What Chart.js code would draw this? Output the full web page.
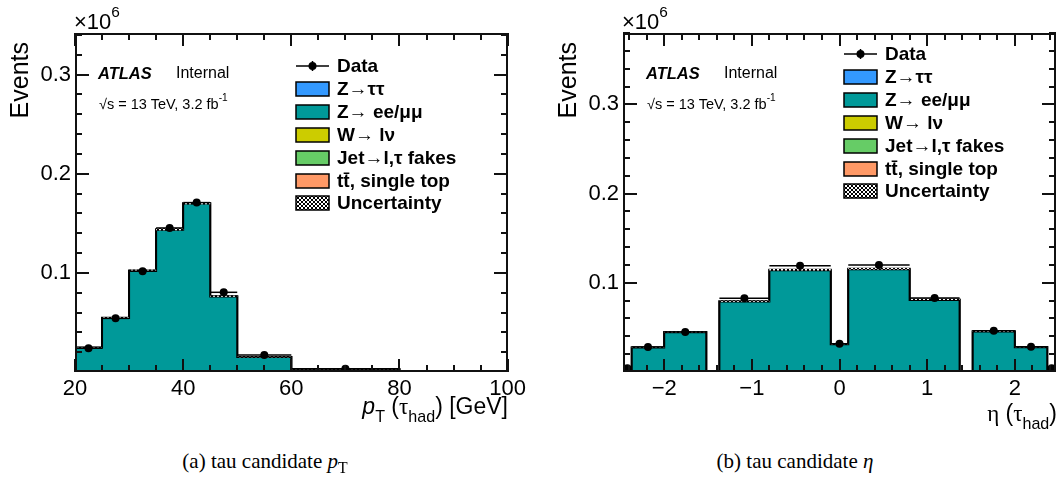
<!DOCTYPE html>
<html>
<head>
<meta charset="utf-8">
<script src="https://cdn.jsdelivr.net/npm/chart.js@4.4.1/dist/chart.umd.min.js"></script>
<style>
  body { margin: 0; background: #fff; }
  #page { position: relative; width: 1060px; height: 478px; overflow: hidden; font-family: "Liberation Sans", Arial, sans-serif; color: #000; }
  canvas { position: absolute; top: 0; }
  .t { position: absolute; white-space: nowrap; line-height: 1; }
  .ax { font-size: 23px; }
  .lab { font-size: 22px; }
  .atlas { font-size: 16.5px; font-weight: bold; font-style: italic; }
  .internal { font-size: 16px; }
  .lumi { font-size: 14.5px; }
  .cap { font-family: "Liberation Serif", "Times New Roman", serif; font-size: 21px; text-align: center; width: 530px; }
  .sup { font-size: 70%; position: relative; top: -0.75em; }
  .sub { font-size: 70%; position: relative; top: 0.5em; }
  .sym { font-family: "Liberation Serif", serif; }
  .ytitle { position: absolute; left: 0; top: 0; width: 200px; text-align: right; font-size: 25px; line-height: 1; transform-origin: 0 0; white-space: nowrap; }
</style>
</head>
<body>
<div id="page">
  <canvas id="ptChart" width="530" height="440" style="left:0"></canvas>
  <canvas id="etaChart" width="530" height="440" style="left:530px"></canvas>

  <!-- left panel texts -->
  <div class="t lab" style="left:74px; top:11px">×10<span class="sup">6</span></div>
  <div class="ytitle" style="transform: translate(7px, 242px) rotate(-90deg)">Events</div>
  <div class="t atlas" style="left:98px; top:65px">ATLAS</div>
  <div class="t internal" style="left:176px; top:65px">Internal</div>
  <div class="t lumi" style="left:99px; top:97px">√s = 13 TeV, 3.2 fb<span class="sup">-1</span></div>
  <div class="t ax" style="right:552px; top:395px"><i>p</i><span class="sub">T</span> (<span class="sym">τ</span><span class="sub">had</span>) [GeV]</div>
  <div class="t cap" style="left:0; top:451px">(a) tau candidate <i>p</i><span class="sub" style="font-size:75%;top:0.3em">T</span></div>

  <!-- right panel texts -->
  <div class="t lab" style="left:622px; top:11px">×10<span class="sup">6</span></div>
  <div class="ytitle" style="transform: translate(555px, 242px) rotate(-90deg)">Events</div>
  <div class="t atlas" style="left:646px; top:65px">ATLAS</div>
  <div class="t internal" style="left:724px; top:65px">Internal</div>
  <div class="t lumi" style="left:647px; top:97px">√s = 13 TeV, 3.2 fb<span class="sup">-1</span></div>
  <div class="t ax" style="right:3px; top:402px"><span class="sym">η</span> (<span class="sym">τ</span><span class="sub">had</span>)</div>
  <div class="t cap" style="left:530px; top:451px">(b) tau candidate <i>η</i></div>
</div>

<script>
// ---- tau pT histogram (events x 10^6) ----
const ptEdges = [20, 25, 30, 35, 40, 45, 50, 60, 80, 100];
const ptZll   = [0.0239, 0.0536, 0.1010, 0.1421, 0.1686, 0.0750, 0.0145, 0.0026, 0.0002];
const ptZtt   = [0.0002, 0.0003, 0.0004, 0.0004, 0.0003, 0.0002, 0.0001, 0, 0];
const ptWlnu  = [0.0001, 0.0001, 0.0001, 0.0001, 0.0001, 0.0001, 0.0001, 0, 0];
const ptFakes = [0.0004, 0.0006, 0.0008, 0.0012, 0.0012, 0.0010, 0.0004, 0.0001, 0];
const ptTop   = [0.0001, 0.0001, 0.0001, 0.0001, 0.0001, 0.0001, 0.0001, 0, 0];
const ptUnc   = [0.0003, 0.0005, 0.0008, 0.0010, 0.0011, 0.0006, 0.0003, 0.0001, 0.0001];
const ptData  = [0.0240, 0.0541, 0.1017, 0.1453, 0.1709, 0.0804, 0.0172, 0.0034, null];

// ---- tau eta histogram (events x 10^6), crack bins are empty ----
const etaEdges = [-2.47, -2.37, -2.0, -1.52, -1.37, -0.8, -0.1, 0.1, 0.8, 1.37, 1.52, 2.0, 2.37, 2.47];
const etaZll   = [0.0028, 0.0269, 0.0439, 0, 0.0782, 0.1131, 0.0309, 0.1143, 0.0800, 0, 0.0447, 0.0273, 0.0028];
const etaZtt   = [0.0001, 0.0002, 0.0003, 0, 0.0004, 0.0005, 0.0002, 0.0005, 0.0004, 0, 0.0003, 0.0002, 0.0001];
const etaWlnu  = [0, 0.0001, 0.0001, 0, 0.0001, 0.0001, 0, 0.0001, 0.0001, 0, 0.0001, 0.0001, 0];
const etaFakes = [0.0001, 0.0003, 0.0004, 0, 0.0006, 0.0008, 0.0002, 0.0008, 0.0006, 0, 0.0004, 0.0003, 0.0001];
const etaTop   = [0, 0.0001, 0.0001, 0, 0.0001, 0.0001, 0, 0.0001, 0.0001, 0, 0.0001, 0.0001, 0];
const etaUnc   = [0.0001, 0.0003, 0.0004, 0, 0.0006, 0.0008, 0.0003, 0.0008, 0.0006, 0, 0.0004, 0.0003, 0.0001];
const etaData  = [0.0043, 0.0280, 0.0447, null, 0.0827, 0.1190, 0.0317, 0.1199, 0.0830, null, 0.0463, 0.0283, 0.0043];

const ZTT_COLOR = '#3399ff';
const ZLL_COLOR = '#009999';
const W_COLOR = '#cccc00';
const FAKES_COLOR = '#66cc66';
const TOP_COLOR = '#ff9966';

Chart.defaults.font.family = '"Liberation Sans", Arial, sans-serif';
Chart.defaults.color = '#000';

// histogram outline: one point per lower edge + closing point at last edge
function stepPoints(edges, vals) {
  const pts = vals.map((v, i) => ({ x: edges[i], y: v }));
  pts.push({ x: edges[edges.length - 1], y: vals[vals.length - 1] });
  return pts;
}

function dataPoints(edges, vals) {
  const pts = [];
  vals.forEach((v, i) => {
    if (v === null) return;
    pts.push({ x: (edges[i] + edges[i + 1]) / 2, y: v, lo: edges[i], hi: edges[i + 1] });
  });
  return pts;
}

function hatchPattern() {
  const c = document.createElement('canvas');
  c.width = 4; c.height = 4;
  const g = c.getContext('2d');
  g.fillStyle = '#fff';
  g.fillRect(0, 0, 4, 4);
  g.fillStyle = '#000';
  for (let i = 0; i < 4; i++) {
    g.fillRect(i, i, 1, 1);
    g.fillRect(3 - i, i, 1, 1);
  }
  return g.createPattern(c, 'repeat');
}

// inward ROOT-style ticks on all four sides + frame
function frameTicks(t) {
  return {
    id: 'frameTicks',
    afterDraw(chart) {
      const ctx = chart.ctx;
      const a = chart.chartArea;
      const x = chart.scales.x, y = chart.scales.y;
      const L = Math.round(a.left), R = Math.round(a.right);
      const T = Math.round(a.top), B = Math.round(a.bottom);
      ctx.save();
      ctx.fillStyle = '#111';
      const rx = Math.round(t.xMajor / t.xMinor);
      const k0 = Math.ceil(x.min / t.xMinor - 1e-6);
      const k1 = Math.floor(x.max / t.xMinor + 1e-6);
      for (let k = k0; k <= k1; k++) {
        const px = Math.round(x.getPixelForValue(k * t.xMinor));
        const len = k % rx === 0 ? 13 : 7;
        ctx.fillRect(px - 1, B - len, 2, len);
        ctx.fillRect(px - 1, T, 2, len);
      }
      const ry = Math.round(t.yMajor / t.yMinor);
      const m1 = Math.floor(y.max / t.yMinor + 1e-6);
      for (let k = 1; k <= m1; k++) {
        const py = Math.round(y.getPixelForValue(k * t.yMinor));
        const len = k % ry === 0 ? 14 : 7;
        ctx.fillRect(L, py - 1, len, 2);
        ctx.fillRect(R - len, py - 1, len, 2);
      }
      // frame
      ctx.fillRect(L, T, R - L, 2);
      ctx.fillRect(L, B - 2, R - L, 2);
      ctx.fillRect(L, T, 2, B - T);
      ctx.fillRect(R - 2, T, 2, B - T);
      ctx.restore();
    }
  };
}

// horizontal bin-width bars on the data points
const errorBars = {
  id: 'errorBars',
  afterDatasetsDraw(chart) {
    const ctx = chart.ctx;
    const x = chart.scales.x, y = chart.scales.y;
    chart.data.datasets.forEach(d => {
      if (!d.xErrors) return;
      ctx.save();
      ctx.strokeStyle = '#000';
      ctx.lineWidth = 1.5;
      d.data.forEach(p => {
        const py = y.getPixelForValue(p.y);
        ctx.beginPath();
        ctx.moveTo(x.getPixelForValue(p.lo), py);
        ctx.lineTo(x.getPixelForValue(p.hi), py);
        ctx.stroke();
      });
      ctx.restore();
    });
  }
};

// legend box inside the frame
function histLegend(l) {
  return {
    id: 'histLegend',
    afterDraw(chart) {
      const ctx = chart.ctx;
      const a = chart.chartArea;
      const items = chart.data.datasets
        .filter(d => d.legendRank !== undefined)
        .sort((p, q) => p.legendRank - q.legendRank);
      ctx.save();
      ctx.font = 'bold 19px "Liberation Sans", Arial, sans-serif';
      ctx.textBaseline = 'middle';
      items.forEach((d, i) => {
        const bx = a.left + l.left;
        const cy = Math.round(a.top + l.top + i * l.rowHeight);
        ctx.strokeStyle = '#000';
        if (d.legendKind === 'marker') {
          ctx.lineWidth = 1.5;
          ctx.beginPath();
          ctx.moveTo(bx, cy); ctx.lineTo(bx + 33, cy);
          ctx.moveTo(bx + 16.5, cy - 5); ctx.lineTo(bx + 16.5, cy + 5);
          ctx.stroke();
          ctx.fillStyle = '#000';
          ctx.beginPath();
          ctx.arc(bx + 16.5, cy, 4, 0, Math.PI * 2);
          ctx.fill();
        } else {
          ctx.fillStyle = d.backgroundColor;
          ctx.fillRect(bx, cy - 7, 33, 14);
          ctx.lineWidth = 1.5;
          ctx.strokeRect(bx, cy - 7, 33, 14);
        }
        ctx.fillStyle = '#000';
        ctx.fillText(d.legendLabel, bx + 41, cy + 1);
      });
      ctx.restore();
    }
  };
}

function histChart(id, h) {
  const total = h.zll.map((v, i) => v + h.ztt[i] + h.wlnu[i] + h.fakes[i] + h.top[i]);
  const uncLow = total.map((v, i) => v - h.unc[i]);
  const uncWidth = h.unc.map(v => 2 * v);
  const hatch = hatchPattern();

  function mc(label, vals, color, rank, fill, width) {
    return {
      label: label, legendLabel: label, legendRank: rank,
      data: stepPoints(h.edges, vals),
      stepped: true, stack: 'mc', fill: fill,
      backgroundColor: color, borderColor: '#000', borderWidth: width,
      pointRadius: 0
    };
  }

  const datasets = [
    {
      type: 'scatter', label: 'Data', legendLabel: 'Data', legendRank: 0, legendKind: 'marker',
      data: dataPoints(h.edges, h.data), xErrors: true, stack: 'data',
      backgroundColor: '#000', borderWidth: 0, pointRadius: 4
    },
    {
      label: 'uncLow', data: stepPoints(h.edges, uncLow), stepped: true, stack: 'unc',
      fill: false, borderWidth: 0, pointRadius: 0
    },
    {
      label: 'Uncertainty', legendLabel: 'Uncertainty', legendRank: 6,
      data: stepPoints(h.edges, uncWidth), stepped: true, stack: 'unc',
      fill: '-1', backgroundColor: hatch, borderWidth: 0, pointRadius: 0
    },
    mc('t\u0074\u0304, single top', h.top, TOP_COLOR, 5, 'origin', 1),
    mc('Jet\u2192l,\u03c4 fakes', h.fakes, FAKES_COLOR, 4, '-1', 1),
    mc('W\u2192 l\u03bd', h.wlnu, W_COLOR, 3, '-1', 1),
    mc('Z\u2192 ee/\u03bc\u03bc', h.zll, ZLL_COLOR, 2, '-1', 2),
    mc('Z\u2192\u03c4\u03c4', h.ztt, ZTT_COLOR, 1, '-1', 2)
  ];

  return new Chart(document.getElementById(id), {
    type: 'line',
    data: { datasets: datasets },
    plugins: [
      errorBars,
      histLegend({ left: 221, top: h.legendTop, rowHeight: 22.9 }),
      frameTicks({ xMinor: h.xMinor, xMajor: h.xStep, yMinor: 0.02, yMajor: 0.1 })
    ],
    options: {
      responsive: false,
      animation: false,
      devicePixelRatio: 1,
      layout: { padding: { top: 33, right: h.padRight, left: 0, bottom: 0 } },
      plugins: {
        legend: { display: false },
        tooltip: { enabled: false }
      },
      scales: {
        x: {
          type: 'linear', min: h.xMin, max: h.xMax,
          grid: { display: false, drawTicks: false }, border: { display: false },
          ticks: {
            stepSize: h.xStep, includeBounds: false, autoSkip: false, maxRotation: 0,
            padding: 4, font: { size: 22 },
            callback: v => (v < 0 ? '\u2212' + Math.abs(v) : String(v))
          },
          afterFit: s => { s.height = 68; }
        },
        y: {
          stacked: true, min: 0, max: h.yMax,
          grid: { display: false, drawTicks: false }, border: { display: false },
          ticks: {
            stepSize: 0.1, includeBounds: false, autoSkip: false,
            padding: 4, font: { size: 22 },
            callback: v => (v === 0 ? '' : v.toFixed(1))
          },
          afterFit: s => { s.width = h.yWidth; }
        }
      }
    }
  });
}

histChart('ptChart', {
  edges: ptEdges, zll: ptZll, ztt: ptZtt, wlnu: ptWlnu, fakes: ptFakes, top: ptTop,
  unc: ptUnc, data: ptData,
  xMin: 20, xMax: 100, xStep: 20, xMinor: 5, yMax: 0.342,
  yWidth: 75, padRight: 22, legendTop: 33
});

histChart('etaChart', {
  edges: etaEdges, zll: etaZll, ztt: etaZtt, wlnu: etaWlnu, fakes: etaFakes, top: etaTop,
  unc: etaUnc, data: etaData,
  xMin: -2.47, xMax: 2.47, xStep: 1, xMinor: 0.2, yMax: 0.38,
  yWidth: 93, padRight: 3, legendTop: 21
});
</script>
</body>
</html>
